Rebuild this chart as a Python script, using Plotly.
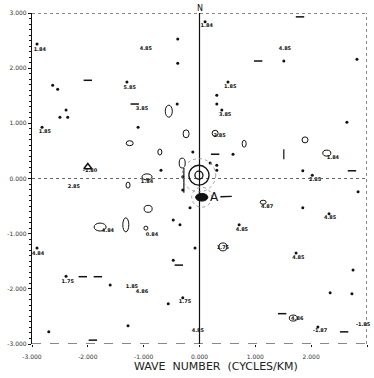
import plotly.graph_objects as go

# ---- data (wave-number coordinates, cycles/km) ----
label_x = [-2.86, -0.96, -1.25, -1.03, -2.77, -1.96, -2.25, -0.94, 0.13, 1.53, 0.55, 0.46,
           2.39, 2.07, -1.64, -0.85, -2.89, -2.36, -1.21, -1.03, -0.26, 1.21, 2.34, 0.76,
           0.42, 1.77, 1.75, 2.16, 2.93, -0.03, 0.36]
label_y = [2.33, 2.35, 1.64, 1.26, 0.84, 0.14, -0.15, -0.06, 2.76, 2.35, 1.66, 1.15,
           0.37, -0.03, -0.95, -1.02, -1.37, -1.88, -1.97, -2.06, -2.24, -0.52, -0.72, -0.93,
           -1.26, -1.44, -2.55, -2.76, -2.65, -2.76, 0.78]
label_text = ["1.84", "4.85", "5.85", "3.85", "1.85", "-1.80", "2.85", "1.84", "1.84", "4.85",
              "1.85", "3.85", "1.84", "2.85", "4.84", "0.84", "4.84", "1.75", "1.85", "4.86",
              "1.75", "4.87", "4.85", "4.85", "1.75", "4.85", "4.86", "-1.87", "-1.85", "4.85", "2.85"]

dot_x = [-2.91, -0.39, -0.39, -1.30, -2.63, -2.54, -0.40, -2.39, -2.50, -2.36, -2.82, -1.10,
         -0.69, 0.10, 1.51, 2.82, 0.51, 0.31, 0.31, 0.40, 2.64, 0.60, 1.85, 2.02, -0.12,
         0.19, 0.31, 0.31, -0.30, -0.35, -0.47, -2.91, -0.47, -2.39, -1.60, -0.30, -0.56,
         -1.28, -2.70, -0.17, 1.85, 2.32, 2.84, 0.71, -0.08, 1.73, 2.75, 2.34, 2.73, 2.12,
         -0.30]
dot_y = [2.44, 2.53, 2.09, 1.75, 1.69, 1.62, 1.35, 1.24, 1.11, 1.11, 0.93, 0.93,
         0.15, 2.84, 2.13, 2.16, 1.75, 1.51, 1.35, 1.24, 1.02, 0.44, 0.14, 0.06, 0.48,
         0.28, 0.24, 0.15, -0.21, -0.84, -0.75, -1.26, -1.48, -1.77, -1.93, -2.16, -2.27,
         -2.67, -2.78, -0.53, -0.53, -0.64, -0.24, -0.84, -1.26, -1.35, -1.66, -2.07, -2.09, -2.69,
         0.03]

dash_x = [-2.00, -1.16, 1.80, 1.05, 0.28, 2.73, -0.37, -2.09, -1.82, 1.48, 2.59, -1.91]
dash_y = [1.78, 1.35, 2.93, 2.13, 0.44, 0.14, -1.57, -1.78, -1.78, -2.45, -2.78, -2.93]
vdash_x = [1.51]
vdash_y = [0.44]

oval_x = [-0.55, -0.24, -1.25, -0.71, -0.94, -1.28, 0.80, 1.89, 2.28, -0.92, -1.78, -1.32,
          -0.96, 0.42, 1.14, 1.68, 0.28, -0.31]
oval_y = [1.22, 0.81, 0.64, 0.48, 0.03, -0.12, 0.63, 0.70, 0.46, -0.55, -0.88, -0.84,
          -0.90, -1.24, -0.43, -2.53, 0.82, 0.28]
oval_rx = [0.063, 0.054, 0.063, 0.036, 0.09, 0.036, 0.036, 0.054, 0.072, 0.072, 0.108, 0.054,
           0.036, 0.072, 0.054, 0.072, 0.054, 0.054]
oval_ry = [0.109, 0.072, 0.045, 0.054, 0.054, 0.054, 0.063, 0.054, 0.054, 0.063, 0.072, 0.127,
           0.036, 0.072, 0.036, 0.054, 0.054, 0.09]

ring_x, ring_y = -0.01, 0.06
ring_r = [0.072, 0.18]
ring_outer = 0.30
blob_x, blob_y, blob_rx, blob_ry = 0.04, -0.34, 0.11, 0.07
blob_halo = 0.18
peak_A_x, peak_A_y = 0.65, -0.32
tri_x, tri_y = [-2.0], [0.21]

tick_vals = [-3, -2, -1, 0, 1, 2, 3]
tick_text = ["-3.000", "-2.000", "-1.000", "0.000", "1.000", "2.000", "3.000"]
y_tick_text = ["-3.000", "-2.000", "-1.000", "0.000", "1.000", "2.000", "3.000"]

INK = "#111111"

fig = go.Figure()

fig.add_trace(go.Scatter(x=dot_x, y=dot_y, mode="markers",
                         marker=dict(symbol="circle", size=3, color=INK), hoverinfo="skip"))
fig.add_trace(go.Scatter(x=dash_x, y=dash_y, mode="markers",
                         marker=dict(symbol="line-ew", size=6, color=INK,
                                     line=dict(width=1.5, color=INK)),
                         hoverinfo="skip"))
fig.add_trace(go.Scatter(x=vdash_x, y=vdash_y, mode="markers",
                         marker=dict(symbol="line-ns", size=7, color=INK,
                                     line=dict(width=1.2, color=INK)),
                         hoverinfo="skip"))
fig.add_trace(go.Scatter(x=tri_x, y=tri_y, mode="markers",
                         marker=dict(symbol="triangle-up-open", size=7, color=INK,
                                     line=dict(width=1.5, color=INK)),
                         hoverinfo="skip"))
fig.add_trace(go.Scatter(x=label_x, y=label_y, mode="text", text=label_text,
                         marker=dict(color=INK), cliponaxis=False,
                         textfont=dict(family="DejaVu Sans", size=5, color=INK, weight="bold"),
                         hoverinfo="skip"))
# sprig stem left of the origin
fig.add_trace(go.Scatter(x=[-0.28, -0.28], y=[0.19, -0.26], mode="lines",
                         line=dict(color=INK, width=1.2), hoverinfo="skip"))

shapes = []
# frame: top & right dotted, bottom dashed
shapes.append(dict(type="line", xref="x", yref="y", x0=-3, x1=3, y0=3, y1=3,
                   line=dict(color=INK, width=1, dash="dot")))
shapes.append(dict(type="line", xref="x", yref="y", x0=3, x1=3, y0=-3, y1=3,
                   line=dict(color=INK, width=1, dash="dot")))
shapes.append(dict(type="line", xref="x", yref="y", x0=-3, x1=3, y0=-3, y1=-3,
                   line=dict(color=INK, width=1, dash="dash")))
# axes through origin
shapes.append(dict(type="line", xref="x", yref="y", x0=0, x1=0, y0=-3, y1=3,
                   line=dict(color=INK, width=1.2)))
shapes.append(dict(type="line", xref="x", yref="y", x0=-3, x1=3, y0=0, y1=0,
                   line=dict(color="#666666", width=1, dash="dot")))

for cx, cy, rx, ry in zip(oval_x, oval_y, oval_rx, oval_ry):
    shapes.append(dict(type="circle", xref="x", yref="y",
                       x0=cx - rx, x1=cx + rx, y0=cy - ry, y1=cy + ry,
                       line=dict(color=INK, width=1)))
for r in ring_r:
    shapes.append(dict(type="circle", xref="x", yref="y",
                       x0=ring_x - r, x1=ring_x + r, y0=ring_y - r, y1=ring_y + r,
                       line=dict(color=INK, width=1.3)))
shapes.append(dict(type="circle", xref="x", yref="y",
                   x0=ring_x - ring_outer, x1=ring_x + ring_outer,
                   y0=ring_y - ring_outer, y1=ring_y + ring_outer,
                   line=dict(color="#888888", width=0.8, dash="dot")))
shapes.append(dict(type="circle", xref="x", yref="y",
                   x0=blob_x - blob_halo, x1=blob_x + blob_halo,
                   y0=blob_y - blob_halo, y1=blob_y + blob_halo,
                   line=dict(color="#888888", width=0.8, dash="dot")))
shapes.append(dict(type="circle", xref="x", yref="y",
                   x0=blob_x - blob_rx, x1=blob_x + blob_rx,
                   y0=blob_y - blob_ry, y1=blob_y + blob_ry,
                   fillcolor=INK, line=dict(color=INK, width=1)))

annotations = [
    dict(x=peak_A_x, y=peak_A_y, xref="x", yref="y", text="A", showarrow=True,
         ax=blob_x + blob_rx, ay=blob_y, axref="x", ayref="y",
         arrowhead=0, arrowwidth=1.3, arrowcolor=INK, standoff=4,
         font=dict(family="DejaVu Sans", size=12, color=INK), xanchor="left"),
    dict(x=0, y=1.0, xref="x", yref="paper", text="N", showarrow=False, yanchor="bottom",
         yshift=-2, font=dict(family="DejaVu Sans", size=8, color=INK)),
    dict(x=0.55, y=-0.069, xref="paper", yref="paper", text="WAVE  NUMBER  (CYCLES/KM)",
         showarrow=False, yanchor="middle",
         font=dict(family="DejaVu Sans", size=11, color="#222222")),
]

fig.update_layout(
    width=374, height=378,
    margin=dict(l=32, r=7, t=13, b=34),
    paper_bgcolor="white", plot_bgcolor="white",
    showlegend=False,
    shapes=shapes, annotations=annotations,
    xaxis=dict(range=[-3, 3], tickvals=tick_vals, ticktext=tick_text, showgrid=False,
               zeroline=False, ticks="outside", ticklen=2, tickcolor=INK,
               ticklabelstandoff=5,
               tickfont=dict(family="DejaVu Sans", size=6, color="#333333"),
               showline=False, fixedrange=True),
    yaxis=dict(range=[-3, 3], tickvals=tick_vals, ticktext=y_tick_text, showgrid=False,
               zeroline=False, ticks="outside", ticklen=3, tickcolor=INK,
               tickfont=dict(family="DejaVu Sans", size=6, color="#333333"),
               showline=True, linecolor=INK, linewidth=1.2,
               minor=dict(dtick=0.1, ticks="outside", ticklen=2, tickcolor=INK),
               fixedrange=True),
)

fig.write_html("out.html")
